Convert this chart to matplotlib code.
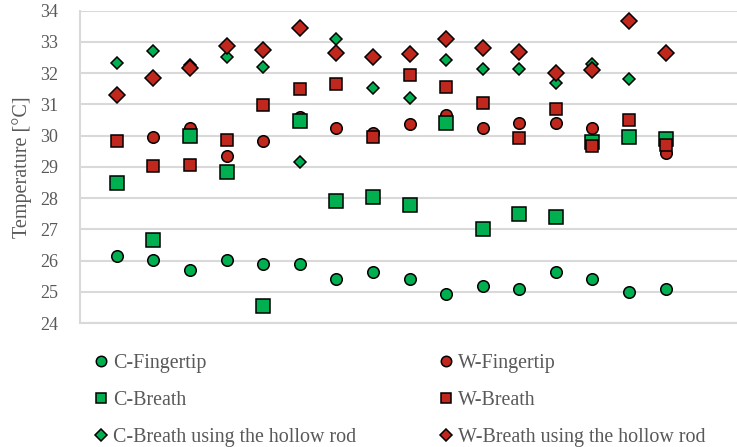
import numpy as np
import matplotlib.pyplot as plt
import matplotlib as mpl

mpl.rcParams['font.family'] = ['Liberation Serif', 'DejaVu Serif']

# sample number 1..16
trial = np.arange(1, 17)

c_finger = [26.15, 26.03, 25.71, 26.03, 25.88, 25.88, 25.41, 25.65,
            25.41, 24.93, 25.20, 25.10, 25.64, 25.41, 24.99, 25.10]
w_finger = [np.nan, 29.96, 30.24, 29.35, 29.82, 30.61, 30.24, 30.08,
            30.36, 30.66, 30.24, 30.40, 30.40, 30.24, np.nan, 29.46]
c_breath = [28.50, 26.67, 29.99, 28.84, 24.55, 30.47, 27.92, 28.03,
            27.78, 30.40, 27.03, 27.51, 27.41, 29.81, 29.97, 29.88]
w_breath = [29.82, 29.04, 29.07, 29.85, 30.98, 31.48, 31.65, 29.97,
            31.93, 31.56, 31.05, 29.93, 30.84, 29.67, 30.51, 29.69]
c_rod = [32.32, 32.71, 32.25, 32.53, 32.20, 29.17, 33.08, 31.52,
         31.22, 32.43, 32.13, 32.13, 31.69, 32.28, 31.80, np.nan]
w_rod = [31.31, 31.86, 32.16, 32.87, 32.74, 33.45, 32.66, 32.51,
         32.61, 33.08, 32.81, 32.68, 32.02, 32.09, 33.66, 32.66]

green = '#00B050'
red = '#C0281E'
grey = '#595959'

fig = plt.figure(figsize=(7.37, 4.47), dpi=100)
ax = fig.add_axes([0.109, 0.277, 0.891, 0.699])

kw = dict(linestyle='none', markeredgecolor='black', markeredgewidth=1.1)
h1, = ax.plot(trial, c_finger, 'o', color=green, markersize=8.3, label='C-Fingertip', **kw)
h2, = ax.plot(trial, w_finger, 'o', color=red, markersize=8.3, label='W-Fingertip', **kw)
h3, = ax.plot(trial, c_breath, 's', color=green, markersize=10.5, label='C-Breath', **kw)
h4, = ax.plot(trial, w_breath, 's', color=red, markersize=9, label='W-Breath', **kw)
h5, = ax.plot(trial, c_rod, 'D', color=green, markersize=6.5, label='C-Breath using the hollow rod', **kw)
h6, = ax.plot(trial, w_rod, 'D', color=red, markersize=8, label='W-Breath using the hollow rod', **kw)

ax.set_xlim(0, 17.95)
ax.set_ylim(24, 34)
ax.set_yticks(range(24, 35))
ax.set_xticks([])
ax.grid(axis='y', color='#D9D9D9', linewidth=1.5)
ax.set_axisbelow(True)
for s in ['top', 'right']:
    ax.spines[s].set_visible(False)
ax.spines['left'].set_color('#D9D9D9')
ax.spines['bottom'].set_color('#D9D9D9')
ax.spines['left'].set_linewidth(1.5)
ax.spines['bottom'].set_linewidth(1.5)
ax.tick_params(axis='y', length=0, labelsize=13, labelcolor=grey, pad=16)
ax.set_ylabel('Temperature [°C]', fontsize=14.5, color=grey, labelpad=6)

# legend: cold series in the left column, warm in the right
order = [h1, h3, h5, h2, h4, h6]
leg = fig.legend(order, [h.get_label() for h in order],
                 ncol=2, loc='upper left', bbox_to_anchor=(0.105, 0.248),
                 frameon=False, fontsize=14.4, labelcolor=grey,
                 handlelength=0.6, handletextpad=0.28, columnspacing=4.2,
                 labelspacing=0.9)
for lh, ms in zip(leg.legend_handles, [7.5, 7.5, 6, 7.5, 7.5, 6]):
    lh.set_markersize(ms)

fig.savefig('out.png', dpi=100)
